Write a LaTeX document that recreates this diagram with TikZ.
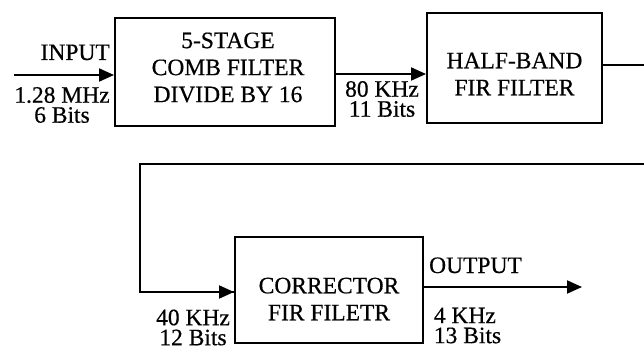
\documentclass[tikz,border=0pt]{standalone}
\usepackage{fontspec}
\setmainfont{Liberation Serif}[FakeBold=0.5]
\usetikzlibrary{arrows.meta}
\begin{document}
\begin{tikzpicture}[x=1pt,y=-1pt,
  box/.style={draw=black, line width=2pt, inner sep=0pt},
  boxtext/.style={font=\fontsize{23.5}{27}\selectfont, align=center, inner sep=0pt, text=black},
  lbl/.style={font=\fontsize{23.5}{20}\selectfont, align=center, inner sep=0pt, text=black},
  wire/.style={line width=2pt, draw=black},
  arr/.style={wire, -{Triangle[length=15pt,width=13pt]}}
]
\useasboundingbox (0,0) rectangle (644,350);

% boxes
\node[box, minimum width=220pt, minimum height=108pt,
  label={[boxtext, xshift=3pt, yshift=4.5pt]center:{5-STAGE\\COMB FILTER\\DIVIDE BY 16}}] (b1) at (225,72) {};
\node[box, minimum width=175pt, minimum height=110pt,
  label={[boxtext, yshift=-6pt]center:{HALF-BAND\\FIR FILTER}}] (b2) at (514.5,68) {};
\node[box, minimum width=188pt, minimum height=106pt,
  label={[boxtext, yshift=-9pt]center:{CORRECTOR\\FIR FILETR}}] (b3) at (329,290) {};

% coordinates
\coordinate (in) at (14,75);
\coordinate (c1) at (648,65);
\coordinate (c2) at (648,164);
\coordinate (c3) at (140,164);
\coordinate (out) at (582,287);

% connectors
\draw[arr] (in) -- (in -| b1.west);
\draw[arr] ([yshift=-2pt]b1.east) -- ([yshift=-2pt]b1.east -| b2.west);
\draw[wire] ([yshift=3pt]b2.east) -- (c1) -- (c2) -- (c3) |- ([yshift=-2pt]b3.west);
\draw[arr] ([yshift=-2pt]c3 |- b3.west) -- ([yshift=-2pt]b3.west);
\draw[arr] ([yshift=3pt]b3.east) -- (out);

% labels
\node[lbl, anchor=base east] (linput) at (110,60) {INPUT};
\node[lbl] (lin) at (62,105) {1.28 MHz\\6 Bits};
\node[lbl] (l80) at (382,99) {80 KHz\\11 Bits};
\node[lbl] (l40) at (193,327.5) {40 KHz\\12 Bits};
\node[lbl, anchor=base] (loutput) at (475.5,273) {OUTPUT};
\node[lbl, align=left] (l4) at (467.5,325.5) {4 KHz\\13 Bits};
\end{tikzpicture}
\end{document}
